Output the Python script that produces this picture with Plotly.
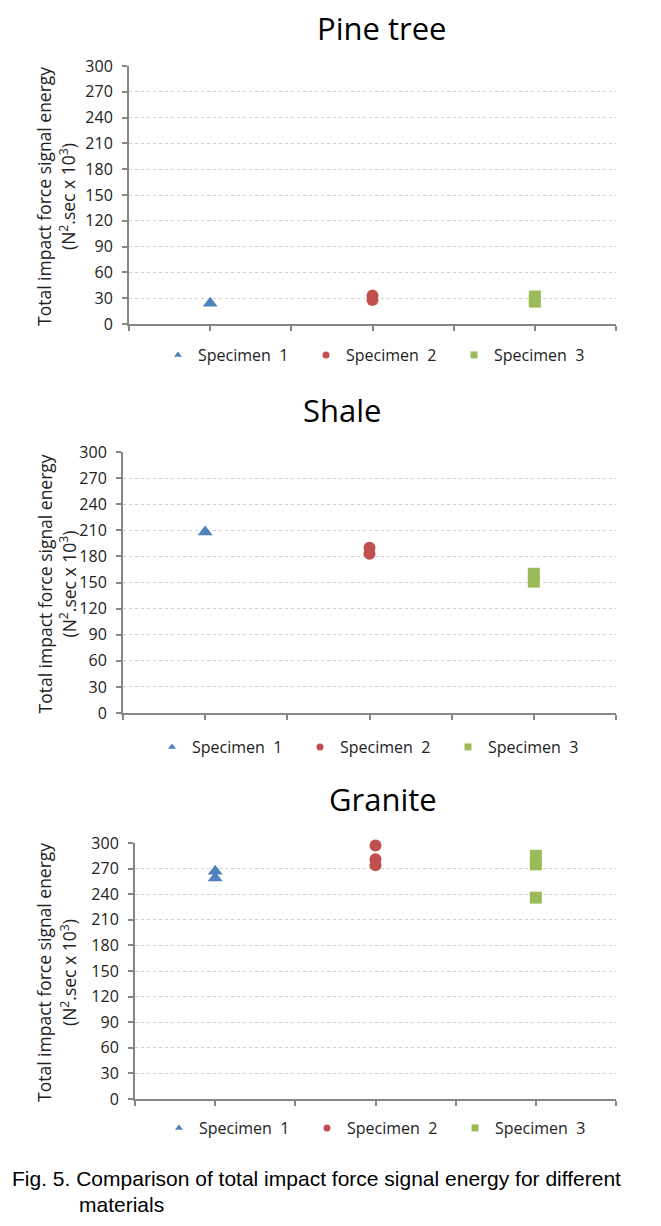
import plotly.graph_objects as go

# page body adds an 8px margin, so the figure is drawn 8px in from the window edge
OFF = 8
W, H = 661 - 2 * OFF, 1226 - 2 * OFF

materials = ["Pine tree", "Shale", "Granite"]
specimens = ["Specimen  1", "Specimen  2", "Specimen  3"]
spec_x = [1, 3, 5]
x_ticks = [0, 1, 2, 3, 4, 5, 6]
y_ticks = [0, 30, 60, 90, 120, 150, 180, 210, 240, 270, 300]

# values (N^2.sec x 10^3), repeated tests per specimen
pine_s1 = [24]
pine_s2 = [28, 33]
pine_s3 = [26, 32]
shale_s1 = [208]
shale_s2 = [183, 190]
shale_s3 = [151, 160]
granite_s1 = [259, 267]
granite_s2 = [274, 281, 297]
granite_s3 = [236, 275, 285]

data = [
    [pine_s1, pine_s2, pine_s3],
    [shale_s1, shale_s2, shale_s3],
    [granite_s1, granite_s2, granite_s3],
]

colors = ["#4F81BD", "#C0504D", "#9BBB59"]
symbols = ["triangle-up", "circle", "square"]
sizes = [13, 12, 12]


def px(xw):
    return (xw - OFF) / W


def py(yw):
    return 1 - (yw - OFF) / H


# panel boxes in window pixels: left, right, top, bottom
boxes = [(129, 616, 66, 324), (123, 616, 452, 713), (135, 616, 843, 1099)]
title_pos = [(381, 28), (342, 410), (383, 799)]
legend_y = [355, 747, 1128]
legend_x = [158, 152, 159]

FONT = "Open Sans"
AX = "#868686"
TXT = "#222"

fig = go.Figure()
layout = dict(
    width=W, height=H, margin=dict(l=0, r=0, t=0, b=0, pad=0, autoexpand=False),
    paper_bgcolor="white", plot_bgcolor="white",
    font=dict(family=FONT, size=16, color=TXT),
    annotations=[], showlegend=True,
)

for p in range(3):
    xs = "x" if p == 0 else f"x{p+1}"
    ys = "y" if p == 0 else f"y{p+1}"
    lg = "legend" if p == 0 else f"legend{p+1}"
    for s in range(3):
        vals = data[p][s]
        fig.add_trace(go.Scatter(
            x=[spec_x[s]] * len(vals), y=vals, mode="markers",
            marker=dict(symbol=symbols[s], color=colors[s], size=sizes[s], line=dict(width=0)),
            xaxis=xs, yaxis=ys, showlegend=False, cliponaxis=False, hoverinfo="skip",
        ))
        fig.add_trace(go.Scatter(
            x=[None], y=[None], mode="markers", name=specimens[s],
            marker=dict(symbol=symbols[s], color=colors[s], size=7, line=dict(width=0)),
            xaxis=xs, yaxis=ys, showlegend=True, legend=lg,
        ))
    l, r, t, b = boxes[p]
    xkey = "xaxis" if p == 0 else f"xaxis{p+1}"
    ykey = "yaxis" if p == 0 else f"yaxis{p+1}"
    layout[xkey] = dict(
        domain=[px(l), px(r)], anchor=ys, range=[0, 6], tickvals=x_ticks,
        showticklabels=False, ticks="outside", ticklen=5, tickwidth=2, tickcolor=AX,
        showline=True, linecolor=AX, linewidth=2, showgrid=False, zeroline=False,
        fixedrange=True,
    )
    layout[ykey] = dict(
        domain=[py(b), py(t)], anchor=xs, range=[0, 300], tickvals=y_ticks,
        ticks="outside", ticklen=5, tickwidth=2, tickcolor=AX, ticklabelstandoff=6,
        tickfont=dict(family=FONT, size=16, color=TXT),
        showline=True, linecolor=AX, linewidth=2, showgrid=True,
        gridcolor="#cfcfcf", griddash="dot", gridwidth=1, zeroline=False, fixedrange=True,
    )
    layout[lg] = dict(
        orientation="h", x=px(legend_x[p]), xanchor="left",
        y=py(legend_y[p]), yanchor="middle", bgcolor="rgba(0,0,0,0)",
        font=dict(family=FONT, size=16, color=TXT),
        entrywidth=103, entrywidthmode="pixels", itemwidth=30,
    )
    tx, ty = title_pos[p]
    layout["annotations"].append(dict(
        text=materials[p], x=px(tx), y=py(ty), xref="paper", yref="paper",
        xanchor="center", yanchor="middle", showarrow=False,
        font=dict(family=FONT, size=31, color="black"),
    ))
    cy = (t + b) / 2 + 2
    layout["annotations"].append(dict(
        text="Total impact force signal energy", x=px(44), y=py(cy),
        xref="paper", yref="paper", xanchor="center", yanchor="middle",
        textangle=-90, showarrow=False, font=dict(family=FONT, size=17.5, color=TXT),
    ))
    layout["annotations"].append(dict(
        text="(N<sup>2</sup>.sec x 10<sup>3</sup>)", x=px(68), y=py(cy),
        xref="paper", yref="paper", xanchor="center", yanchor="middle",
        textangle=-90, showarrow=False, font=dict(family=FONT, size=17.5, color=TXT),
    ))

layout["annotations"].append(dict(
    text="Fig. 5. Comparison of total impact force signal energy for different",
    x=px(10), y=py(1178), xref="paper", yref="paper", xanchor="left", yanchor="middle",
    showarrow=False, font=dict(family="Liberation Sans", size=21, color="black"),
))
layout["annotations"].append(dict(
    text="materials", x=px(77), y=py(1204), xref="paper", yref="paper",
    xanchor="left", yanchor="middle", showarrow=False,
    font=dict(family="Liberation Sans", size=21, color="black"),
))

fig.update_layout(**layout)
fig.write_html("out.html")
